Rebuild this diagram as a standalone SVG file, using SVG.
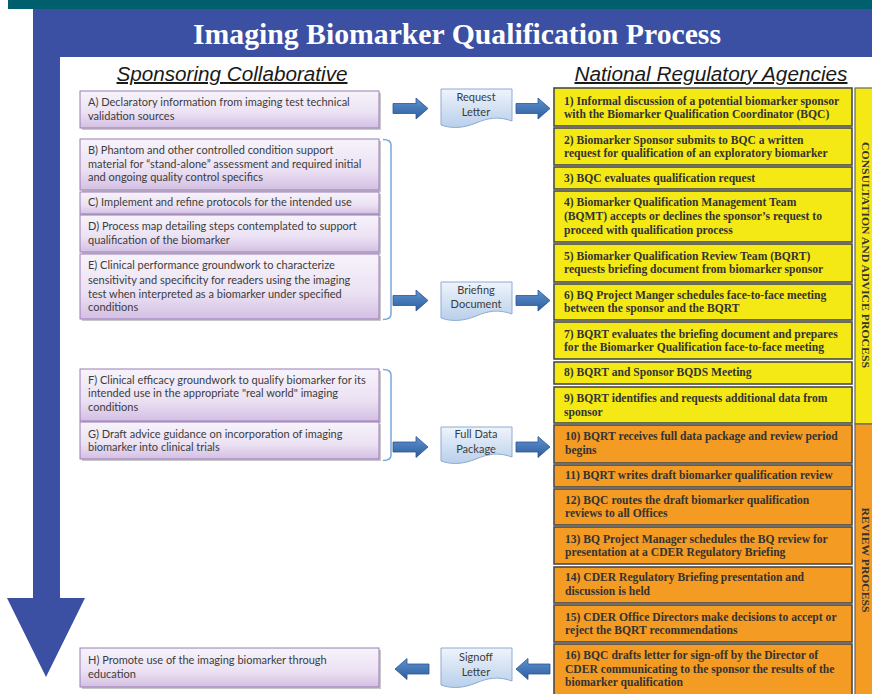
<svg xmlns="http://www.w3.org/2000/svg" width="872" height="694" viewBox="0 0 872 694">
<defs>
<linearGradient id="gPurple" x1="0" y1="0" x2="0" y2="1">
<stop offset="0" stop-color="#f7f3fb"/>
<stop offset="0.6" stop-color="#ebe1f3"/>
<stop offset="1" stop-color="#d3bfe3"/>
</linearGradient>
<linearGradient id="gDoc" x1="0" y1="0" x2="0" y2="1">
<stop offset="0" stop-color="#eef4fc"/>
<stop offset="1" stop-color="#b9cfea"/>
</linearGradient>
<linearGradient id="gArrow" x1="0" y1="0" x2="0" y2="1">
<stop offset="0" stop-color="#5f93d2"/>
<stop offset="1" stop-color="#2d5c9c"/>
</linearGradient>
</defs>
<style>
.pbox{fill:url(#gPurple);stroke:#9a7db6;stroke-width:1}
.shadow{fill:#c8c8c8}
.ptxt{font-family:Lato,"Liberation Sans",sans-serif;font-size:11px;fill:#3c3c3c}
.doc{fill:url(#gDoc);stroke:#8eabd2;stroke-width:1}
.dtxt{font-family:Lato,"Liberation Sans",sans-serif;font-size:11px;fill:#3c3c3c;text-anchor:middle}
.arr{fill:url(#gArrow);stroke:#2b5590;stroke-width:0.8}
.brk{fill:none;stroke:#7aa6da;stroke-width:1.5}
.ybox{fill:#f5e915;stroke:#4a4a4a;stroke-width:1.6}
.obox{fill:#f39b22;stroke:#4a4a4a;stroke-width:1.6}
.rtxt{font-family:"Liberation Serif",serif;font-weight:bold;font-size:11.6px;fill:#333}
.hdr{font-family:"Liberation Sans",sans-serif;font-style:italic;font-size:20px;fill:#1a1a1a;text-anchor:middle;text-decoration:underline}
.side{font-family:"Liberation Serif",serif;font-weight:bold;font-size:10.5px;fill:#333;text-anchor:middle}
</style>

<rect x="0" y="0" width="872" height="694" fill="#ffffff"/>
<rect x="8" y="0" width="864" height="9" fill="#005f6d"/>
<path d="M33,9 H872 V57 H60 V598 H85 L46,677 L7,598 H33 Z" fill="#3b4fa3"/>
<text x="457" y="44" font-family="'Liberation Serif',serif" font-weight="bold" font-size="30" fill="#ffffff" text-anchor="middle" textLength="528" lengthAdjust="spacingAndGlyphs">Imaging Biomarker Qualification Process</text>

<text class="hdr" x="232" y="81" textLength="231" lengthAdjust="spacingAndGlyphs">Sponsoring Collaborative</text>
<text class="hdr" x="711" y="81" textLength="273" lengthAdjust="spacingAndGlyphs">National Regulatory Agencies</text>

<g id="boxA"><rect class="shadow" x="82" y="93" width="299" height="37"/><rect class="pbox" x="80" y="91" width="299" height="37"/>
<text class="ptxt" x="88" y="106">A) Declaratory information from imaging test technical</text>
<text class="ptxt" x="88" y="119.5">validation sources</text></g>

<g id="boxB"><rect class="shadow" x="82" y="141" width="299" height="51"/><rect class="pbox" x="80" y="139" width="299" height="51"/>
<text class="ptxt" x="88" y="153.5">B) Phantom and other controlled condition support</text>
<text class="ptxt" x="88" y="167.5">material for “stand-alone” assessment and required initial</text>
<text class="ptxt" x="88" y="181">and ongoing quality control specifics</text></g>

<g id="boxC"><rect class="shadow" x="82" y="194" width="299" height="22"/><rect class="pbox" x="80" y="192" width="299" height="22"/>
<text class="ptxt" x="88" y="206">C) Implement and refine protocols for the intended use</text></g>

<g id="boxD"><rect class="shadow" x="82" y="217" width="299" height="37"/><rect class="pbox" x="80" y="215" width="299" height="37"/>
<text class="ptxt" x="88" y="230">D) Process map detailing steps contemplated to support</text>
<text class="ptxt" x="88" y="244">qualification of the biomarker</text></g>

<g id="boxE"><rect class="shadow" x="82" y="256" width="299" height="65"/><rect class="pbox" x="80" y="254" width="299" height="65"/>
<text class="ptxt" x="88" y="269">E) Clinical performance groundwork to characterize</text>
<text class="ptxt" x="88" y="283.5">sensitivity and specificity for readers using the imaging</text>
<text class="ptxt" x="88" y="297.5">test when interpreted as a biomarker under specified</text>
<text class="ptxt" x="88" y="311">conditions</text></g>

<g id="boxF"><rect class="shadow" x="82" y="371" width="299" height="52"/><rect class="pbox" x="80" y="369" width="299" height="52"/>
<text class="ptxt" x="88" y="383.5">F) Clinical efficacy groundwork to qualify biomarker for its</text>
<text class="ptxt" x="88" y="397">intended use in the appropriate "real world" imaging</text>
<text class="ptxt" x="88" y="410.5">conditions</text></g>

<g id="boxG"><rect class="shadow" x="82" y="424" width="299" height="37"/><rect class="pbox" x="80" y="422" width="299" height="37"/>
<text class="ptxt" x="88" y="437.5">G) Draft advice guidance on incorporation of imaging</text>
<text class="ptxt" x="88" y="451">biomarker into clinical trials</text></g>

<g id="boxH"><rect class="shadow" x="82" y="650" width="299" height="39"/><rect class="pbox" x="80" y="648" width="299" height="39"/>
<text class="ptxt" x="88" y="663.5">H) Promote use of the imaging biomarker through</text>
<text class="ptxt" x="88" y="677.5">education</text></g>

<g id="docRequest"><path class="doc" d="M441,89 H512 V121 C498,116 488,118 476,123 C464,128 452,129 441,125 Z"/>
<text class="dtxt" x="476" y="101">Request</text><text class="dtxt" x="476" y="116">Letter</text></g>
<g id="docBriefing"><path class="doc" d="M441,282 H512 V314 C498,309 488,311 476,316 C464,321 452,322 441,318 Z"/>
<text class="dtxt" x="476" y="294">Briefing</text><text class="dtxt" x="476" y="308">Document</text></g>
<g id="docFullData"><path class="doc" d="M441,427 H512 V457 C498,452 488,454 476,459 C464,464 452,465 441,461 Z"/>
<text class="dtxt" x="476" y="438">Full Data</text><text class="dtxt" x="476" y="453">Package</text></g>
<g id="docSignoff"><path class="doc" d="M441,648 H512 V681 C498,676 488,678 476,683 C464,688 452,689 441,685 Z"/>
<text class="dtxt" x="476" y="660.5">Signoff</text><text class="dtxt" x="476" y="675.5">Letter</text></g>

<g id="connectors">
<path class="brk" d="M383,139.5 Q391,139.5 391,145 V314 Q391,319.5 383,319.5"/>
<path class="brk" d="M383,369.5 Q391,369.5 391,375 V455 Q391,460.5 383,460.5"/>
<path class="arr" d="M393,103.5 H416 V98 L428,108.5 L416,119 V113.5 H393 Z"/>
<path class="arr" d="M516,103.5 H538 V98 L550,108.5 L538,119 V113.5 H516 Z"/>
<path class="arr" d="M393,295.5 H416 V290 L428,300.5 L416,311 V305.5 H393 Z"/>
<path class="arr" d="M516,295.5 H538 V290 L550,300.5 L538,311 V305.5 H516 Z"/>
<path class="arr" d="M393,442 H416 V436.5 L428,447 L416,457.5 V452 H393 Z"/>
<path class="arr" d="M516,442 H538 V436.5 L550,447 L538,457.5 V452 H516 Z"/>
<path class="arr" d="M429,664 H407 V658.5 L395,669 L407,679.5 V674 H429 Z"/>
<path class="arr" d="M550,664 H528 V658.5 L516,669 L528,679.5 V674 H550 Z"/>
</g>

<g id="bandConsult"><rect x="855" y="88" width="20" height="336" fill="#f5e915" stroke="#666" stroke-width="1.2"/>
<text class="side" transform="translate(862,255) rotate(90)" textLength="226" lengthAdjust="spacingAndGlyphs">CONSULTATION AND ADVICE PROCESS</text></g>
<g id="bandReview"><rect x="855" y="424" width="20" height="272" fill="#f39b22" stroke="#666" stroke-width="1.2"/>
<text class="side" transform="translate(862,560) rotate(90)" textLength="105" lengthAdjust="spacingAndGlyphs">REVIEW PROCESS</text></g>

<g id="step1"><rect class="ybox" x="554" y="88" width="298" height="38"/>
<text class="rtxt" x="564" y="104.5">1) Informal discussion of a potential biomarker sponsor</text>
<text class="rtxt" x="564" y="118">with the Biomarker Qualification Coordinator (BQC)</text></g>
<g id="step2"><rect class="ybox" x="554" y="128" width="298" height="37"/>
<text class="rtxt" x="564" y="144">2) Biomarker Sponsor submits to BQC a written</text>
<text class="rtxt" x="564" y="157">request for qualification of an exploratory biomarker</text></g>
<g id="step3"><rect class="ybox" x="554" y="167" width="298" height="22"/>
<text class="rtxt" x="564" y="182">3) BQC evaluates qualification request</text></g>
<g id="step4"><rect class="ybox" x="554" y="191" width="298" height="51"/>
<text class="rtxt" x="564" y="206">4) Biomarker Qualification Management Team</text>
<text class="rtxt" x="564" y="220">(BQMT) accepts or declines the sponsor’s request to</text>
<text class="rtxt" x="564" y="234">proceed with qualification process</text></g>
<g id="step5"><rect class="ybox" x="554" y="244" width="298" height="38"/>
<text class="rtxt" x="564" y="259.5">5) Biomarker Qualification Review Team (BQRT)</text>
<text class="rtxt" x="564" y="273">requests briefing document from biomarker sponsor</text></g>
<g id="step6"><rect class="ybox" x="554" y="284" width="298" height="36"/>
<text class="rtxt" x="564" y="299">6) BQ Project Manger schedules face-to-face meeting</text>
<text class="rtxt" x="564" y="312">between the sponsor and the BQRT</text></g>
<g id="step7"><rect class="ybox" x="554" y="322" width="298" height="37"/>
<text class="rtxt" x="564" y="338">7) BQRT evaluates the briefing document and prepares</text>
<text class="rtxt" x="564" y="351">for the Biomarker Qualification face-to-face meeting</text></g>
<g id="step8"><rect class="ybox" x="554" y="362" width="298" height="22"/>
<text class="rtxt" x="564" y="375.5">8) BQRT and Sponsor BQDS Meeting</text></g>
<g id="step9"><rect class="ybox" x="554" y="387" width="298" height="36"/>
<text class="rtxt" x="564" y="402">9) BQRT identifies and requests additional data from</text>
<text class="rtxt" x="564" y="416">sponsor</text></g>
<g id="step10"><rect class="obox" x="554" y="425" width="298" height="38"/>
<text class="rtxt" x="565" y="440">10) BQRT receives full data package and review period</text>
<text class="rtxt" x="565" y="454">begins</text></g>
<g id="step11"><rect class="obox" x="554" y="465" width="298" height="22"/>
<text class="rtxt" x="565" y="479">11) BQRT writes draft biomarker qualification review</text></g>
<g id="step12"><rect class="obox" x="554" y="489" width="298" height="36"/>
<text class="rtxt" x="565" y="504">12) BQC routes the draft biomarker qualification</text>
<text class="rtxt" x="565" y="517">reviews to all Offices</text></g>
<g id="step13"><rect class="obox" x="554" y="527" width="298" height="37"/>
<text class="rtxt" x="565" y="543">13) BQ Project Manager schedules the BQ review for</text>
<text class="rtxt" x="565" y="556">presentation at a CDER Regulatory Briefing</text></g>
<g id="step14"><rect class="obox" x="554" y="567" width="298" height="36"/>
<text class="rtxt" x="565" y="581">14) CDER Regulatory Briefing presentation and</text>
<text class="rtxt" x="565" y="594.5">discussion is held</text></g>
<g id="step15"><rect class="obox" x="554" y="605" width="298" height="37"/>
<text class="rtxt" x="565" y="620.5">15) CDER Office Directors make decisions to accept or</text>
<text class="rtxt" x="565" y="634">reject the BQRT recommendations</text></g>
<g id="step16"><rect class="obox" x="554" y="644" width="298" height="54"/>
<text class="rtxt" x="565" y="659">16) BQC drafts letter for sign-off by the Director of</text>
<text class="rtxt" x="565" y="673">CDER communicating to the sponsor the results of the</text>
<text class="rtxt" x="565" y="686">biomarker qualification</text></g>
</svg>
